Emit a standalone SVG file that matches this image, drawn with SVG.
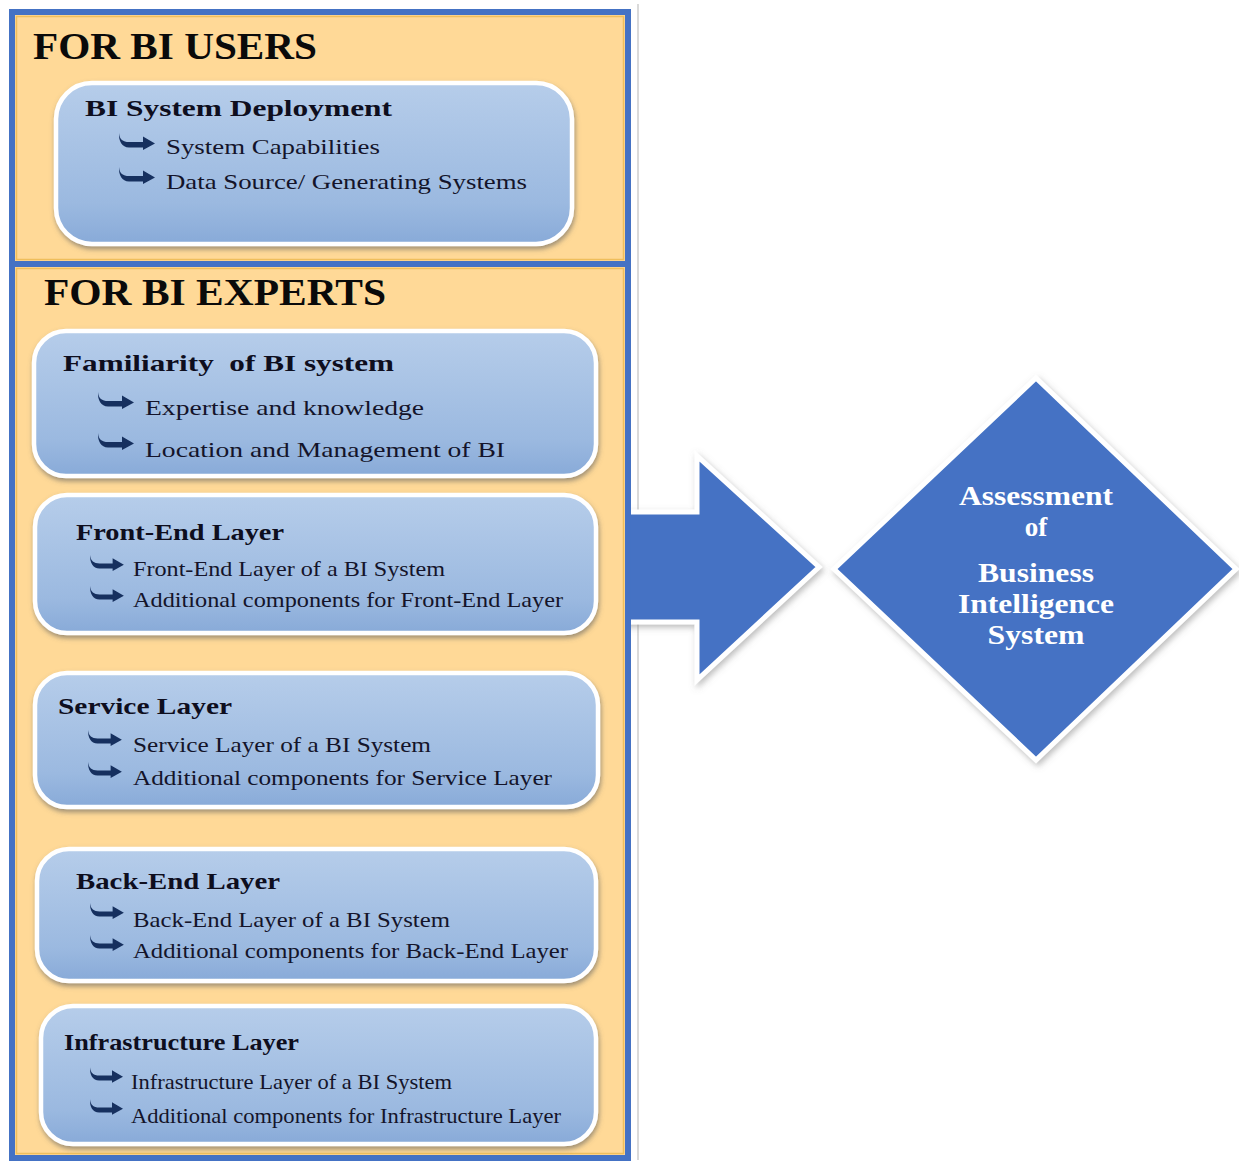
<svg xmlns="http://www.w3.org/2000/svg" xmlns:xlink="http://www.w3.org/1999/xlink" width="1239" height="1163" viewBox="0 0 1239 1163">
  <defs>
    <linearGradient id="boxFill" x1="0" y1="0" x2="0" y2="1">
      <stop offset="0" stop-color="#B6CDEA"/>
      <stop offset="0.75" stop-color="#9BB9E0"/>
      <stop offset="1" stop-color="#88AAD8"/>
    </linearGradient>
    <filter id="soft" x="-10%" y="-10%" width="120%" height="125%">
      <feDropShadow dx="1" dy="3" stdDeviation="2.5" flood-color="#5e5e5e" flood-opacity="0.6"/>
    </filter>
    <filter id="shapeShadow" x="-10%" y="-10%" width="125%" height="125%">
      <feDropShadow dx="2" dy="3" stdDeviation="3" flood-color="#7a7a7a" flood-opacity="0.5"/>
    </filter>
    <!-- curved bullet arrow -->
    <symbol id="bullet" viewBox="0 0 36 16" overflow="visible">
      <path d="M0,0 C0.5,6.5 4,9 10,9 L24,9 L24,3.5 L36,10.5 L24,17 L24,14.5 L10,14.5 C3,14.5 -0.5,8 0,0 Z" fill="#16305F"/>
    </symbol>
    <style>
      .frame { fill: #FFD997; stroke: #4472C4; stroke-width: 6; }
      .inner { fill: none; stroke: #EFBE5C; stroke-width: 1.5; }
      .box { fill: url(#boxFill); stroke: #FFFFFF; stroke-width: 4.5; filter: url(#soft); }
      .big { fill: #4472C4; stroke: #FFFFFF; stroke-width: 5; filter: url(#shapeShadow); stroke-linejoin: miter; }
      .sec { font-family: "Liberation Serif", "Times New Roman", serif; font-weight: bold; font-size: 38px; fill: #0A0A0A; }
      .ttl { font-family: "Liberation Serif", "Times New Roman", serif; font-weight: bold; font-size: 24px; fill: #0E0E1E; white-space: pre; }
      .itm { font-family: "Liberation Serif", "Times New Roman", serif; font-size: 21.5px; fill: #14142A; }
      .dia { font-family: "Liberation Serif", "Times New Roman", serif; font-weight: bold; font-size: 27px; fill: #FFFFFF; text-anchor: middle; }
    </style>
  </defs>

  <rect width="1239" height="1163" fill="#FFFFFF"/>
  <!-- faint page edge beside the panel -->
  <line x1="638" y1="4" x2="638" y2="1160" stroke="#DADADA" stroke-width="2"/>

  <g id="connectors">
    <!-- block arrow from the panel to the assessment diamond -->
    <polygon class="big" points="622,512 697,512 697,456 819,567 697,680 697,622 622,622"/>
  </g>

  <!-- upper section: for BI users -->
  <g id="bi-users">
    <rect class="frame" x="12" y="12" width="616" height="252"/>
    <rect class="inner" x="16.5" y="16.5" width="607" height="243"/>
    <text class="sec" x="33" y="59" textLength="284" lengthAdjust="spacingAndGlyphs">FOR BI USERS</text>
  </g>

  <!-- lower section: for BI experts -->
  <g id="bi-experts">
    <rect class="frame" x="12" y="264" width="616" height="894"/>
    <rect class="inner" x="16.5" y="268.5" width="607" height="885"/>
    <text class="sec" x="44" y="305" textLength="342" lengthAdjust="spacingAndGlyphs">FOR BI EXPERTS</text>
  </g>

  <g id="bi-system-deployment">
    <rect class="box" x="56" y="83" width="516" height="161" rx="36"/>
    <text class="ttl" x="85" y="116" textLength="307" lengthAdjust="spacingAndGlyphs">BI System Deployment</text>
    <use href="#bullet" x="119" y="133" width="36" height="16"/>
    <text class="itm" x="166" y="154" textLength="214" lengthAdjust="spacingAndGlyphs">System Capabilities</text>
    <use href="#bullet" x="119" y="167" width="36" height="16"/>
    <text class="itm" x="166" y="189" textLength="361" lengthAdjust="spacingAndGlyphs">Data Source/ Generating Systems</text>
  </g>

  <g id="familiarity">
    <rect class="box" x="34" y="331" width="562" height="145" rx="32"/>
    <text class="ttl" x="63" y="371" textLength="331" lengthAdjust="spacingAndGlyphs">Familiarity  of BI system</text>
    <use href="#bullet" x="98" y="392" width="36" height="16"/>
    <text class="itm" x="145" y="415" textLength="279" lengthAdjust="spacingAndGlyphs">Expertise and knowledge</text>
    <use href="#bullet" x="98" y="433" width="36" height="16"/>
    <text class="itm" x="145" y="457" textLength="360" lengthAdjust="spacingAndGlyphs">Location and Management of BI</text>
  </g>

  <g id="front-end">
    <rect class="box" x="35" y="495" width="561" height="138" rx="32"/>
    <text class="ttl" x="76" y="540" textLength="208" lengthAdjust="spacingAndGlyphs">Front-End Layer</text>
    <use href="#bullet" x="90" y="555" width="34" height="15"/>
    <text class="itm" x="133" y="576" textLength="312" lengthAdjust="spacingAndGlyphs">Front-End Layer of a BI System</text>
    <use href="#bullet" x="90" y="586" width="34" height="15"/>
    <text class="itm" x="133" y="607" textLength="430" lengthAdjust="spacingAndGlyphs">Additional components for Front-End Layer</text>
  </g>

  <g id="service">
    <rect class="box" x="35" y="673" width="563" height="134" rx="32"/>
    <text class="ttl" x="58" y="714" textLength="174" lengthAdjust="spacingAndGlyphs">Service Layer</text>
    <use href="#bullet" x="88" y="730" width="34" height="15"/>
    <text class="itm" x="133" y="752" textLength="298" lengthAdjust="spacingAndGlyphs">Service Layer of a BI System</text>
    <use href="#bullet" x="88" y="762" width="34" height="15"/>
    <text class="itm" x="133" y="785" textLength="419" lengthAdjust="spacingAndGlyphs">Additional components for Service Layer</text>
  </g>

  <g id="back-end">
    <rect class="box" x="37" y="849" width="559" height="132" rx="32"/>
    <text class="ttl" x="76" y="889" textLength="204" lengthAdjust="spacingAndGlyphs">Back-End Layer</text>
    <use href="#bullet" x="90" y="903" width="34" height="15"/>
    <text class="itm" x="133" y="927" textLength="317" lengthAdjust="spacingAndGlyphs">Back-End Layer of a BI System</text>
    <use href="#bullet" x="90" y="935" width="34" height="15"/>
    <text class="itm" x="133" y="958" textLength="435" lengthAdjust="spacingAndGlyphs">Additional components for Back-End Layer</text>
  </g>

  <g id="infrastructure">
    <rect class="box" x="41" y="1006" width="555" height="138" rx="32"/>
    <text class="ttl" x="64" y="1050" textLength="235" lengthAdjust="spacingAndGlyphs">Infrastructure Layer</text>
    <use href="#bullet" x="90" y="1067" width="33" height="15"/>
    <text class="itm" x="131" y="1089" textLength="321" lengthAdjust="spacingAndGlyphs">Infrastructure Layer of a BI System</text>
    <use href="#bullet" x="90" y="1099" width="33" height="15"/>
    <text class="itm" x="131" y="1123" textLength="430" lengthAdjust="spacingAndGlyphs">Additional components for Infrastructure Layer</text>
  </g>

  <g id="assessment">
    <polygon class="big" points="1036,378 1236,569 1036,760 834,569"/>
    <text class="dia" x="1036" y="505" textLength="154" lengthAdjust="spacingAndGlyphs">Assessment</text>
    <text class="dia" x="1036" y="536">of</text>
    <text class="dia" x="1036" y="582" textLength="116" lengthAdjust="spacingAndGlyphs">Business</text>
    <text class="dia" x="1036" y="613" textLength="156" lengthAdjust="spacingAndGlyphs">Intelligence</text>
    <text class="dia" x="1036" y="644" textLength="97" lengthAdjust="spacingAndGlyphs">System</text>
  </g>
</svg>
